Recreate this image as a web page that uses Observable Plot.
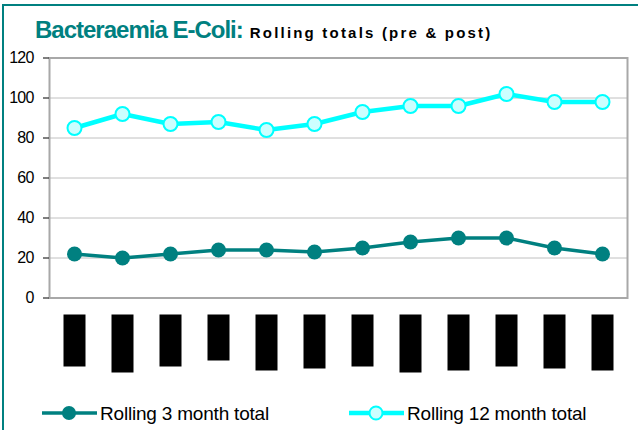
<!DOCTYPE html>
<html><head><meta charset="utf-8">
<script src="https://cdn.jsdelivr.net/npm/d3@7"></script>
<script src="https://cdn.jsdelivr.net/npm/@observablehq/plot@0.6"></script>
<style>
body{margin:0;background:#fff;font-family:"Liberation Sans",Arial,sans-serif;}
#wrap{position:relative;width:638px;height:430px;overflow:hidden;background:#fff}
#border{position:absolute;left:2px;top:4px;width:700px;height:500px;border-left:2px solid #008080;border-top:2px solid #008080}
#title{position:absolute;left:35px;top:16px;white-space:nowrap;line-height:28px}
#title .main{font-size:24px;font-weight:bold;color:#008080;letter-spacing:-1px}
#title .sub{font-size:15px;font-weight:bold;color:#000;letter-spacing:2.2px;margin-left:7px}
#chart{position:absolute;left:0;top:45px}
#legend{position:absolute;left:0;top:390px}
</style></head><body>
<div id="wrap">
  <div id="border"></div>
  <div id="title"><span class="main">Bacteraemia E-Coli:</span><span class="sub">Rolling totals (pre &amp; post)</span></div>
  <div id="chart"></div>
  <div id="legend"></div>
</div>
<script>
// ---- data ----
const periods = ["P1","P2","P3","P4","P5","P6","P7","P8","P9","P10","P11","P12"];
const rolling3 = [22, 20, 22, 24, 24, 23, 25, 28, 30, 30, 25, 22];
const rolling12 = [85, 92, 87, 88, 84, 87, 93, 96, 96, 102, 98, 98];
const yTicks = [0, 20, 40, 60, 80, 100, 120];
// period labels are redacted in the source: length of each black box (in axis units)
const redactedLabelLength = [26, 29, 26, 23, 28, 27, 26, 29, 28, 26, 27, 28];
const seriesNames = ["Rolling 3 month total", "Rolling 12 month total"];

const teal = "#008080", cyan = "#00FFFF", cyanFill = "#CCFFFF";
const labelGap = 8.5;

const d3m = periods.map((p, i) => ({period: p, value: rolling3[i]}));
const d12m = periods.map((p, i) => ({period: p, value: rolling12[i]}));
const labels = periods.map((p, i) => ({period: p, len: redactedLabelLength[i]}));

const chart = Plot.plot({
  width: 638,
  height: 345,
  marginTop: 12.5,
  marginBottom: 92.5,
  marginLeft: 49,
  marginRight: 11,
  style: {fontFamily: "'Liberation Sans', Arial, sans-serif", fontSize: "16px", color: "black", background: "transparent", overflow: "visible"},
  x: {type: "point", domain: periods, padding: 0.5, axis: null},
  y: {domain: [0, 120], axis: null},
  marks: [
    Plot.ruleY(yTicks.slice(1, -1), {stroke: "#c0c0c0", strokeWidth: 1}),
    Plot.frame({stroke: "#a8a8a8", strokeWidth: 2}),
    Plot.axisY({ticks: yTicks, tickSize: 6, tickPadding: 10, label: null, fontSize: 16, tickFormat: d => String(d)}),
    Plot.ruleX(labels, {x: "period", y1: d => -labelGap, y2: d => -labelGap - d.len, stroke: "black", strokeWidth: 22}),
    Plot.line(d12m, {x: "period", y: "value", stroke: cyan, strokeWidth: 4.5}),
    Plot.dot(d12m, {x: "period", y: "value", r: 7, fill: cyanFill, stroke: cyan, strokeWidth: 2}),
    Plot.line(d3m, {x: "period", y: "value", stroke: teal, strokeWidth: 3.5}),
    Plot.dot(d3m, {x: "period", y: "value", r: 7.5, fill: teal})
  ]
});
chart.querySelectorAll("text").forEach(t => t.setAttribute("letter-spacing", "-0.8"));
document.getElementById("chart").appendChild(chart);

// ---- legend ----
const lg = d3.select("#legend").append("svg").attr("width", 638).attr("height", 40)
  .style("font-family", "'Liberation Sans', Arial, sans-serif");
const items = [
  {name: seriesNames[0], x: 42, stroke: teal, fill: teal, sw: 3.5, r: 7, csw: 0},
  {name: seriesNames[1], x: 349, stroke: cyan, fill: cyanFill, sw: 4.5, r: 6.5, csw: 2}
];
items.forEach(it => {
  const g = lg.append("g").attr("transform", `translate(${it.x},23)`);
  g.append("line").attr("x1", 0).attr("x2", 55).attr("y1", 0).attr("y2", 0)
    .attr("stroke", it.stroke).attr("stroke-width", it.sw);
  g.append("circle").attr("cx", 27).attr("cy", 0).attr("r", it.r)
    .attr("fill", it.fill).attr("stroke", it.stroke).attr("stroke-width", it.csw);
  g.append("text").attr("x", 58).attr("y", 7).attr("font-size", 19)
    .attr("letter-spacing", -0.2).attr("fill", "black").text(it.name);
});
</script>
</body></html>
